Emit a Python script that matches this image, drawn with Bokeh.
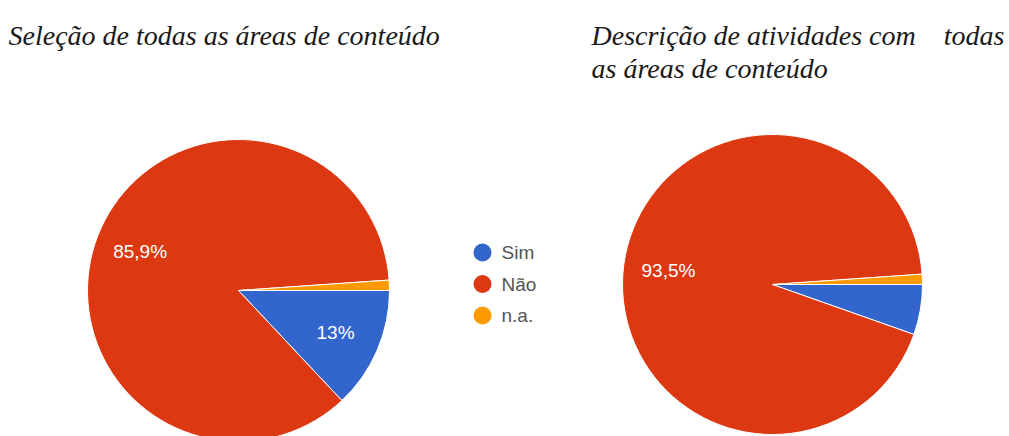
import math
from bokeh.plotting import figure
from bokeh.models import Range1d
from bokeh.core.properties import value
from bokeh.embed import file_html
from bokeh.resources import INLINE

# ---- data ----
categories = ["Sim", "Não", "n.a."]
colors = ["#3366CC", "#DC3912", "#FF9900"]
left_values = [13.0, 85.9, 1.1]
right_values = [5.4, 93.5, 1.1]
left_title = ["Seleção de todas as áreas de conteúdo"]
right_title = ["Descrição de atividades com\u00a0\u00a0\u00a0 todas", "as áreas de conteúdo"]

W, H = 1009, 436
p = figure(width=W, height=H, output_backend="svg", toolbar_location=None,
           x_range=Range1d(0, W), y_range=Range1d(0, H), min_border=0)
p.axis.visible = False
p.grid.visible = False
p.outline_line_color = None
p.background_fill_color = "white"
p.border_fill_color = "white"


def pie(cx, cy, r, vals):
    total = sum(vals)
    starts, ends, mids = [], [], []
    cum = 0.0
    for v in vals:
        a0 = -cum / total * 2 * math.pi
        cum += v
        a1 = -cum / total * 2 * math.pi
        starts.append(a0)
        ends.append(a1)
        mids.append((a0 + a1) / 2)
    p.wedge(x=[cx] * len(vals), y=[cy] * len(vals), radius=r,
            start_angle=starts, end_angle=ends, direction="clock",
            fill_color=colors, line_color="white", line_width=1)
    lx, ly, lt = [], [], []
    for v, m in zip(vals, mids):
        if v >= 10:
            lx.append(cx + 0.70 * r * math.cos(m))
            ly.append(cy + 0.70 * r * math.sin(m))
            s = ("%.1f" % v).replace(".", ",")
            if s.endswith(",0"):
                s = s[:-2]
            lt.append(s + "%")
    p.text(x=lx, y=ly, text=lt, text_color="white", text_align="center",
           text_baseline="middle", text_font=value("Liberation Sans"),
           text_font_size="19px")


pie(238, 146, 151, left_values)
pie(772, 152, 150, right_values)

# legend
lx = 482
ly = [184 - 31.5 * i for i in range(len(categories))]
p.scatter(x=[lx] * len(categories), y=ly, marker="circle", size=18,
          fill_color=colors, line_color=None)
p.text(x=[lx + 19] * len(categories), y=ly, text=categories, text_color="#555555",
       text_align="left", text_baseline="middle",
       text_font=value("Liberation Sans"), text_font_size="19px")

# titles
p.text(x=[8], y=[401], text=left_title, text_color="#1a1a1a",
       text_font=value("Liberation Serif"), text_font_style="italic",
       text_font_size="28px", text_baseline="alphabetic", text_align="left")
p.text(x=[591, 591], y=[401, 368], text=right_title, text_color="#1a1a1a",
       text_font=value("Liberation Serif"), text_font_style="italic",
       text_font_size="28px", text_baseline="alphabetic", text_align="left")

open("out.html", "w").write(file_html(p, INLINE))
